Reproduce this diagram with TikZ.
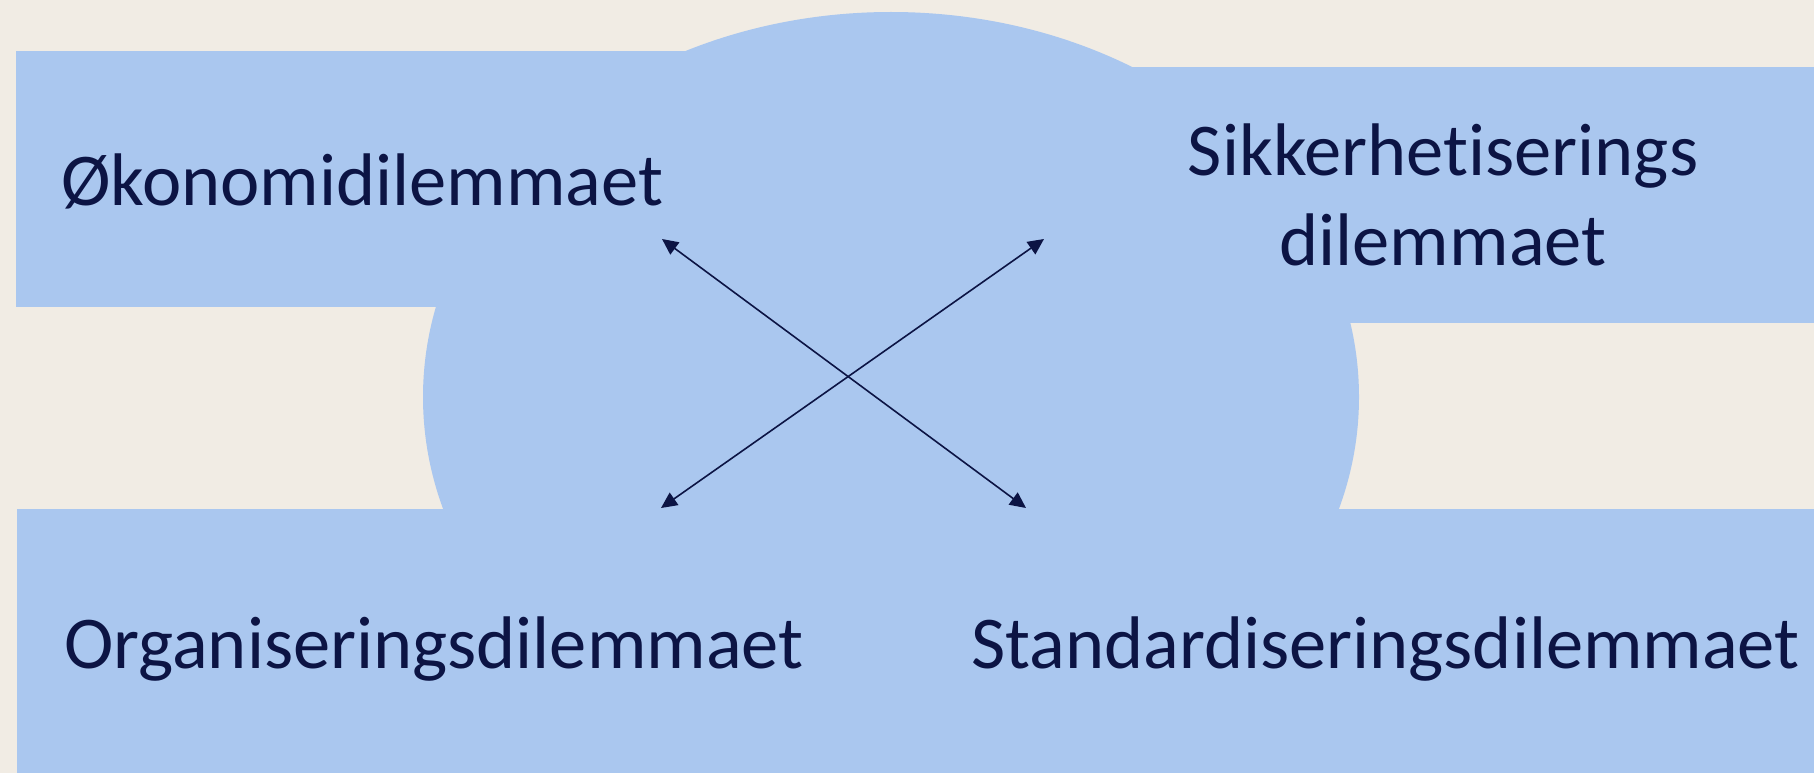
\documentclass[tikz,border=0pt]{standalone}
\usepackage{fontspec}
\setmainfont{Carlito}[Ligatures={NoCommon}]
\usetikzlibrary{arrows.meta}
\definecolor{bgcol}{RGB}{241,236,228}
\definecolor{shapecol}{RGB}{170,199,239}
\definecolor{ink}{RGB}{12,20,68}
\begin{document}
\begin{tikzpicture}[x=1pt,y=-1pt,
  lbl/.style={inner sep=0pt,text=ink,font=\fontsize{74.5}{90}\selectfont},
  dbl/.style={draw=ink,line width=1.6pt,{Triangle[length=16pt,width=15pt]}-{Triangle[length=16pt,width=15pt]}}]
\fill[bgcol] (0,0) rectangle (1814,773);
\useasboundingbox (0,0) rectangle (1814,773);
\fill[shapecol] (16,51) rectangle (700,307);
\fill[shapecol] (1120,67) rectangle (1814,323);
\fill[shapecol] (17,509) rectangle (1814,773);
\fill[shapecol] (891,397) ellipse [x radius=468, y radius=385];
\node[lbl,anchor=base west] (oko) at (61,205) {Økonomidilemmaet};
\node[lbl,anchor=base,align=center] (sik) at (1443,265) {Sikkerhetiserings\\dilemmaet};
\node[lbl,anchor=base west] (org) at (64,668) {Organiseringsdilemmaet};
\node[lbl,anchor=base west] (std) at (971,668) {Standardiseringsdilemmaet};
\coordinate (a1) at (662,239);
\coordinate (a2) at (1026,508);
\coordinate (b1) at (1044,239);
\coordinate (b2) at (661,508);
\draw[dbl] (a1) -- (a2);
\draw[dbl] (b1) -- (b2);
\end{tikzpicture}
\end{document}
